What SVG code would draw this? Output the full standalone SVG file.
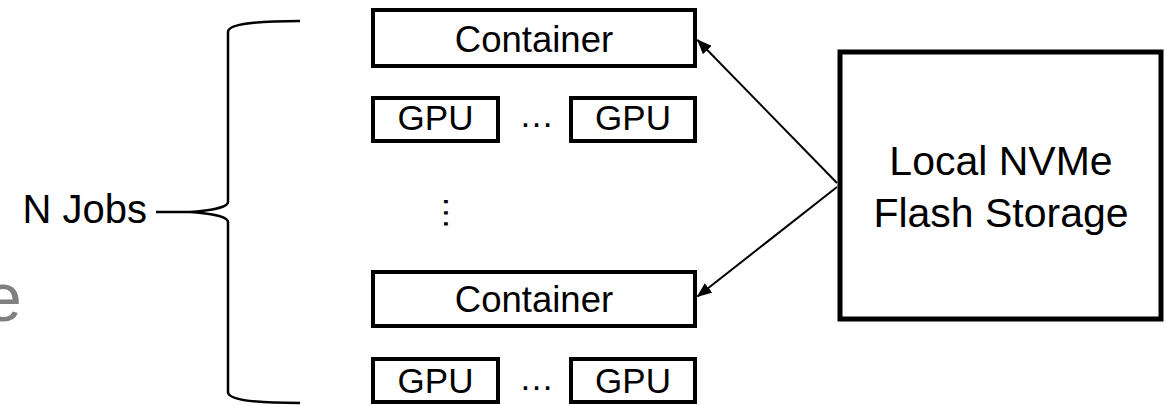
<svg xmlns="http://www.w3.org/2000/svg" width="1166" height="405" viewBox="0 0 1166 405">
  <style>
    .box { fill: #ffffff; stroke: #000000; stroke-width: 4; }
    .big { fill: #ffffff; stroke: #000000; stroke-width: 5; }
    .lbl { font-family: "Liberation Sans", Arial, sans-serif; font-size: 35px; fill: #000000; text-anchor: middle; }
    .lbl-c { font-family: "Liberation Sans", Arial, sans-serif; font-size: 36.5px; fill: #000000; text-anchor: middle; }
    .lbl-lg { font-family: "Liberation Sans", Arial, sans-serif; font-size: 41px; fill: #000000; text-anchor: middle; }
    .edge { fill: none; stroke: #000000; stroke-width: 2; }
    .brace { fill: none; stroke: #000000; stroke-width: 2.5; }
  </style>
  <defs>
    <marker id="head" markerUnits="userSpaceOnUse" markerWidth="16" markerHeight="12" refX="14" refY="6" orient="auto">
      <path d="M0,0 L15,6 L0,12 Z" fill="#000000"/>
    </marker>
  </defs>

  <rect width="1166" height="405" fill="#ffffff"/>

  <!-- grey letter running off the left edge -->
  <text x="-16" y="321" font-family="Liberation Sans, Arial, sans-serif" font-size="68" fill="#808080">e</text>

  <!-- N Jobs label and curly brace -->
  <g id="jobs">
    <text x="147" y="223" font-family="Liberation Sans, Arial, sans-serif" font-size="40" fill="#000000" text-anchor="end">N Jobs</text>
    <line class="brace" x1="156" y1="212" x2="190" y2="212"/>
    <path class="brace" d="M300,21 C255,21 228,24 228,32 L228,202 C228,208 205,211 190,212 C205,213 228,216 228,222 L228,392 C228,400 255,403 300,403"/>
  </g>

  <!-- first job -->
  <g id="container-1">
    <rect class="box" x="373" y="10" width="322" height="56"/>
    <text class="lbl-c" x="534" y="52">Container</text>
  </g>
  <g id="gpu-1a">
    <rect class="box" x="373" y="98" width="125" height="43"/>
    <text class="lbl" x="435.5" y="130">GPU</text>
  </g>
  <text class="lbl" x="536.5" y="127">…</text>
  <g id="gpu-1b">
    <rect class="box" x="571" y="98" width="124" height="43"/>
    <text class="lbl" x="633" y="130">GPU</text>
  </g>

  <!-- vertical ellipsis between jobs -->
  <text class="lbl" transform="translate(444,212.7) rotate(90)" x="0" y="0">…</text>

  <!-- last job -->
  <g id="container-n">
    <rect class="box" x="373" y="272" width="322" height="54"/>
    <text class="lbl-c" x="534" y="312">Container</text>
  </g>
  <g id="gpu-na">
    <rect class="box" x="373" y="359" width="125" height="43"/>
    <text class="lbl" x="435.5" y="393">GPU</text>
  </g>
  <text class="lbl" x="536.5" y="390">…</text>
  <g id="gpu-nb">
    <rect class="box" x="571" y="359" width="124" height="43"/>
    <text class="lbl" x="633" y="393">GPU</text>
  </g>

  <!-- storage -->
  <g id="storage">
    <rect class="big" x="840" y="52" width="321" height="267"/>
    <text class="lbl-lg" x="1001" y="175">Local NVMe</text>
    <text class="lbl-lg" x="1001" y="227">Flash Storage</text>
  </g>

  <!-- connectors -->
  <g id="connectors">
    <line class="edge" x1="837" y1="183" x2="697.5" y2="40" marker-end="url(#head)"/>
    <line class="edge" x1="837" y1="187" x2="697.5" y2="296.5" marker-end="url(#head)"/>
  </g>
</svg>
